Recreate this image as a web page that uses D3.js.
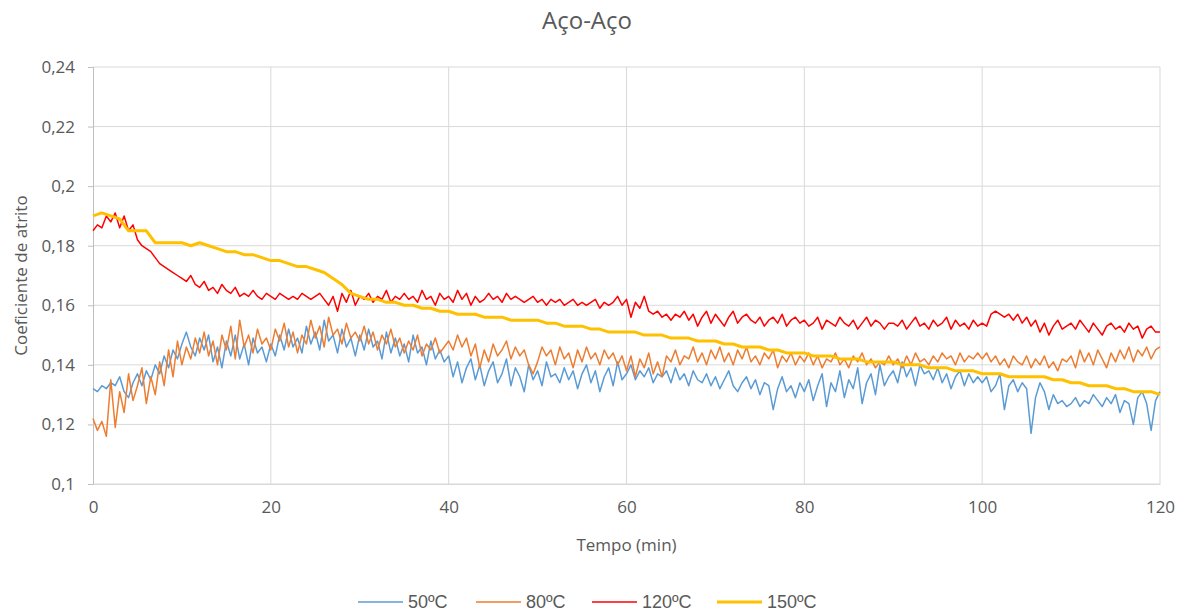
<!DOCTYPE html>
<html>
<head>
<meta charset="utf-8">
<script src="https://cdn.jsdelivr.net/npm/d3@7"></script>
<style>
  body { margin: 0; background: #fff; }
  text { font-family: "Open Sans", "Noto Sans", sans-serif; fill: #595959; }
</style>
</head>
<body>
<div id="chart"></div>
<script>
// chart data (coeficiente de atrito), blue/orange/red sampled every 0.5 min, yellow every 1 min
var titulo = "Aço-Aço";
var xTicks = [0, 20, 40, 60, 80, 100, 120];
var yTicks = [0.10, 0.12, 0.14, 0.16, 0.18, 0.20, 0.22, 0.24];
var serieNomes = ["50ºC", "80ºC", "120ºC", "150ºC"];
var serieCores = ["#5B9BD5", "#ED7D31", "#FF0000", "#FFC000"];
var serieLarg = [1.5, 1.5, 1.5, 3];
var serieDt = [0.5, 0.5, 0.5, 1];

var s50 = [
  0.132,0.131,0.133,0.132,0.134,0.133,0.136,0.131,0.129,0.134,0.137,0.133,0.138,0.135,0.140,0.137,0.143,0.139,0.145,0.142,
  0.147,0.151,0.146,0.143,0.149,0.145,0.150,0.141,0.146,0.139,0.148,0.143,0.150,0.142,0.147,0.140,0.149,0.144,0.146,0.141,
  0.147,0.143,0.150,0.145,0.152,0.146,0.149,0.144,0.153,0.147,0.151,0.145,0.155,0.148,0.150,0.144,0.152,0.146,0.149,0.143,
  0.150,0.145,0.152,0.146,0.148,0.142,0.151,0.144,0.149,0.143,0.147,0.141,0.150,0.144,0.146,0.140,0.148,0.142,0.145,0.141,
  0.143,0.136,0.141,0.134,0.139,0.142,0.135,0.140,0.133,0.138,0.141,0.134,0.137,0.142,0.133,0.139,0.136,0.131,0.140,0.135,
  0.138,0.133,0.141,0.136,0.137,0.134,0.139,0.135,0.138,0.132,0.137,0.140,0.134,0.138,0.131,0.136,0.139,0.133,0.141,0.135,
  0.137,0.140,0.135,0.138,0.136,0.139,0.134,0.137,0.136,0.138,0.134,0.139,0.135,0.137,0.133,0.138,0.135,0.134,0.137,0.133,
  0.136,0.132,0.135,0.138,0.133,0.131,0.134,0.136,0.132,0.135,0.130,0.134,0.133,0.125,0.132,0.136,0.131,0.133,0.129,0.134,
  0.131,0.135,0.128,0.133,0.137,0.126,0.134,0.131,0.138,0.129,0.135,0.132,0.139,0.127,0.134,0.137,0.130,0.140,0.133,0.136,
  0.138,0.134,0.141,0.136,0.139,0.133,0.140,0.137,0.138,0.135,0.139,0.134,0.137,0.132,0.136,0.138,0.133,0.137,0.134,0.136,
  0.134,0.136,0.131,0.133,0.137,0.125,0.133,0.135,0.131,0.134,0.132,0.117,0.129,0.134,0.131,0.125,0.130,0.127,0.128,0.126,
  0.127,0.129,0.126,0.128,0.127,0.130,0.128,0.126,0.129,0.127,0.130,0.124,0.128,0.127,0.120,0.129,0.131,0.127,0.118,0.128,
  0.131
];
var s80 = [
  0.122,0.118,0.121,0.116,0.135,0.119,0.131,0.124,0.137,0.128,0.133,0.139,0.127,0.136,0.130,0.141,0.133,0.145,0.136,0.148,
  0.140,0.146,0.142,0.149,0.144,0.151,0.143,0.148,0.140,0.150,0.145,0.153,0.142,0.155,0.146,0.150,0.144,0.152,0.147,0.149,
  0.145,0.152,0.148,0.154,0.146,0.151,0.144,0.150,0.147,0.155,0.149,0.153,0.146,0.156,0.150,0.152,0.147,0.154,0.149,0.151,
  0.148,0.153,0.147,0.151,0.145,0.150,0.147,0.152,0.146,0.149,0.144,0.148,0.145,0.150,0.143,0.147,0.145,0.149,0.144,0.146,
  0.148,0.145,0.150,0.146,0.149,0.143,0.147,0.139,0.145,0.141,0.147,0.143,0.145,0.148,0.142,0.146,0.143,0.145,0.140,0.137,
  0.141,0.146,0.143,0.145,0.140,0.146,0.142,0.144,0.139,0.145,0.141,0.146,0.142,0.144,0.140,0.145,0.142,0.144,0.140,0.143,
  0.138,0.143,0.136,0.142,0.139,0.144,0.137,0.141,0.136,0.143,0.141,0.145,0.140,0.143,0.142,0.146,0.141,0.144,0.140,0.145,
  0.142,0.146,0.141,0.144,0.140,0.145,0.142,0.146,0.141,0.143,0.140,0.144,0.142,0.145,0.139,0.143,0.141,0.144,0.140,0.143,
  0.141,0.144,0.140,0.143,0.139,0.142,0.141,0.144,0.140,0.142,0.139,0.143,0.141,0.144,0.140,0.142,0.139,0.141,0.140,0.143,
  0.140,0.142,0.139,0.143,0.140,0.144,0.141,0.142,0.140,0.143,0.141,0.144,0.142,0.143,0.140,0.144,0.141,0.143,0.142,0.144,
  0.142,0.144,0.141,0.143,0.140,0.142,0.139,0.143,0.141,0.140,0.143,0.139,0.142,0.140,0.143,0.139,0.141,0.138,0.142,0.141,
  0.143,0.139,0.145,0.141,0.144,0.140,0.145,0.142,0.139,0.144,0.141,0.145,0.142,0.146,0.141,0.145,0.143,0.146,0.142,0.145,
  0.146
];
var s120 = [
  0.185,0.187,0.186,0.190,0.188,0.191,0.186,0.190,0.185,0.187,0.182,0.180,0.179,0.178,0.176,0.174,0.173,0.172,0.171,0.170,
  0.169,0.168,0.170,0.167,0.166,0.168,0.165,0.166,0.164,0.167,0.165,0.164,0.166,0.163,0.164,0.163,0.165,0.163,0.162,0.164,
  0.163,0.162,0.164,0.163,0.162,0.163,0.162,0.164,0.163,0.162,0.163,0.164,0.162,0.160,0.163,0.158,0.164,0.161,0.165,0.160,
  0.163,0.162,0.164,0.161,0.163,0.162,0.165,0.161,0.163,0.162,0.164,0.162,0.163,0.161,0.165,0.162,0.163,0.160,0.164,0.162,
  0.163,0.161,0.165,0.162,0.164,0.160,0.163,0.161,0.162,0.164,0.162,0.163,0.161,0.164,0.162,0.163,0.162,0.161,0.162,0.163,
  0.161,0.162,0.160,0.162,0.161,0.162,0.160,0.161,0.162,0.160,0.161,0.160,0.161,0.162,0.159,0.161,0.160,0.161,0.163,0.160,
  0.162,0.156,0.161,0.159,0.163,0.158,0.157,0.158,0.156,0.157,0.155,0.157,0.156,0.158,0.155,0.157,0.153,0.156,0.158,0.154,
  0.157,0.155,0.153,0.156,0.158,0.154,0.156,0.157,0.155,0.154,0.156,0.153,0.155,0.156,0.154,0.157,0.153,0.155,0.156,0.154,
  0.155,0.153,0.154,0.156,0.152,0.155,0.154,0.153,0.156,0.154,0.153,0.155,0.152,0.154,0.156,0.153,0.155,0.154,0.152,0.154,
  0.154,0.153,0.155,0.152,0.154,0.156,0.153,0.154,0.152,0.155,0.153,0.154,0.156,0.152,0.155,0.153,0.154,0.152,0.155,0.153,
  0.154,0.153,0.157,0.158,0.157,0.156,0.157,0.155,0.157,0.154,0.156,0.153,0.155,0.151,0.154,0.150,0.153,0.155,0.152,0.153,
  0.154,0.152,0.155,0.153,0.151,0.154,0.152,0.150,0.153,0.154,0.152,0.153,0.151,0.154,0.152,0.153,0.149,0.152,0.153,0.151,
  0.151
];
var s150 = [
  0.190,0.191,0.190,0.189,0.185,0.185,0.185,0.181,0.181,0.181,
  0.181,0.180,0.181,0.180,0.179,0.178,0.178,0.177,0.177,0.176,
  0.175,0.175,0.174,0.173,0.173,0.172,0.171,0.169,0.167,0.164,
  0.163,0.162,0.162,0.161,0.161,0.160,0.160,0.159,0.159,0.158,
  0.158,0.157,0.157,0.157,0.156,0.156,0.156,0.155,0.155,0.155,
  0.155,0.154,0.154,0.153,0.153,0.153,0.152,0.152,0.151,0.151,
  0.151,0.151,0.150,0.150,0.150,0.149,0.149,0.149,0.148,0.148,
  0.148,0.147,0.147,0.146,0.146,0.146,0.145,0.145,0.144,0.144,
  0.144,0.143,0.143,0.143,0.142,0.142,0.142,0.141,0.141,0.141,
  0.141,0.140,0.140,0.140,0.139,0.139,0.139,0.138,0.138,0.138,
  0.137,0.137,0.137,0.136,0.136,0.136,0.136,0.136,0.135,0.135,
  0.134,0.134,0.133,0.133,0.133,0.132,0.132,0.131,0.131,0.131,
  0.130
];
var series = [s50, s80, s120, s150];

var W = 1185, H = 614;
var margin = {top: 67, right: 25, bottom: 130, left: 93};
var pw = W - margin.left - margin.right, ph = H - margin.top - margin.bottom;
var fmt = function(d) { return String(+d.toFixed(2)).replace(".", ","); };

var svg = d3.select("#chart").append("svg")
  .attr("width", W).attr("height", H);

// title
svg.append("text")
  .attr("x", 587).attr("y", 29)
  .attr("text-anchor", "middle")
  .style("font-size", "24px")
  .text(titulo);

var g = svg.append("g").attr("transform", "translate(" + margin.left + "," + margin.top + ")");

var x = d3.scaleLinear().domain([0, 120]).range([0, pw]);
var y = d3.scaleLinear().domain([0.10, 0.24]).range([ph, 0]);

// gridlines
g.append("g").selectAll("line.h").data(yTicks)
  .enter().append("line")
    .attr("x1", 0).attr("x2", pw)
    .attr("y1", function(d) { return y(d); }).attr("y2", function(d) { return y(d); })
    .style("stroke", "#d9d9d9").style("stroke-width", 1);
g.append("g").selectAll("line.v").data(xTicks.slice(1))
  .enter().append("line")
    .attr("y1", 0).attr("y2", ph)
    .attr("x1", function(d) { return x(d); }).attr("x2", function(d) { return x(d); })
    .style("stroke", "#d9d9d9").style("stroke-width", 1);

// y axis
var yAxis = g.append("g")
  .call(d3.axisLeft(y).tickValues(yTicks).tickFormat(fmt).tickSize(5).tickPadding(13));
yAxis.select(".domain").style("stroke", "#bfbfbf");
yAxis.selectAll(".tick line").style("stroke", "#bfbfbf");
yAxis.selectAll("text").style("font-size", "17px").style("fill", "#595959");

// x axis
var xAxis = g.append("g").attr("transform", "translate(0," + ph + ")")
  .call(d3.axisBottom(x).tickValues(xTicks).tickSize(0).tickPadding(17));
xAxis.select(".domain").style("stroke", "#d9d9d9");
xAxis.selectAll("text").style("font-size", "17px").style("fill", "#595959");

// axis titles
svg.append("text")
  .attr("x", margin.left + pw / 2).attr("y", 551)
  .attr("text-anchor", "middle").style("font-size", "17px")
  .text("Tempo (min)");
svg.append("text")
  .attr("transform", "translate(27," + (margin.top + ph / 2) + ") rotate(-90)")
  .attr("text-anchor", "middle").style("font-size", "17px")
  .text("Coeficiente de atrito");

// lines
var line = d3.line();
series.forEach(function(s, i) {
  g.append("path")
    .datum(s)
    .attr("d", line.x(function(d, k) { return x(k * serieDt[i]); }).y(function(d) { return y(d); }))
    .style("fill", "none")
    .style("stroke", serieCores[i])
    .style("stroke-width", serieLarg[i])
    .style("stroke-linejoin", "round");
});

// legend
var legX = [358, 476, 592, 717];
var leg = svg.append("g").attr("transform", "translate(0,602)");
serieNomes.forEach(function(n, i) {
  leg.append("line")
    .attr("x1", legX[i]).attr("x2", legX[i] + 45)
    .attr("y1", 0).attr("y2", 0)
    .style("stroke", serieCores[i]).style("stroke-width", serieLarg[i]);
  leg.append("text")
    .attr("x", legX[i] + 50).attr("y", 6)
    .style("font-family", "'Liberation Sans', Arial, sans-serif")
    .style("font-size", "18px")
    .text(n);
});
</script>
</body>
</html>
